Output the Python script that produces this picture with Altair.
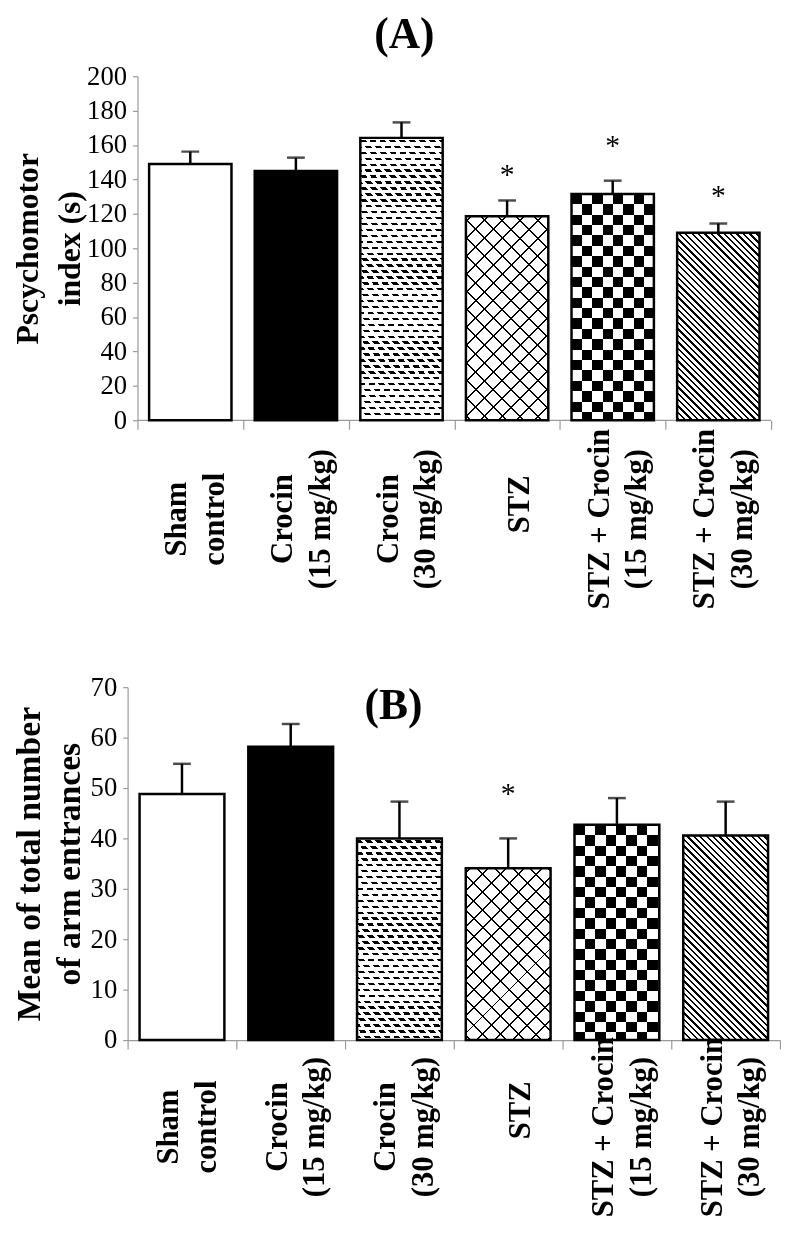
import math
import altair as alt
import pandas as pd

# ---------------- data ----------------
groups = ["Sham\ncontrol", "Crocin\n(15 mg/kg)", "Crocin\n(30 mg/kg)", "STZ",
          "STZ + Crocin\n(15 mg/kg)", "STZ + Crocin\n(30 mg/kg)"]

a_mean = [149.0, 145.0, 164.2, 118.6, 131.6, 109.0]
a_err = [7.2, 7.7, 9.0, 9.2, 7.7, 5.4]
a_star = [None, None, None, 145.4, 162.2, 133.5]
a_ticks = [0, 20, 40, 60, 80, 100, 120, 140, 160, 180, 200]
a_ytitle = ["Pscychomotor", "index (s)"]

b_mean = [48.8, 58.2, 40.0, 34.1, 42.7, 40.6]
b_err = [6.0, 4.5, 7.3, 5.9, 5.3, 6.7]
b_star = [None, None, None, 49.8, None, None]
b_ticks = [0, 10, 20, 30, 40, 50, 60, 70]
b_ytitle = ["Mean of total number", "of arm entrances"]

panel_titles = ["(A)", "(B)"]

# ---------------- style ----------------
FONT = "Liberation Serif"
GRAY = "#9a9a9a"
PAD = 0.11


def stops_from(L, P, on, phase=0.0, fg="black", bg="white"):
    out = [(0.0, bg)]
    s = phase
    while s > 0:
        s -= P
    while s < L:
        a = max(s, 0.0)
        b = min(s + on, L)
        if b > a:
            out += [(a / L, bg), (a / L, fg), (b / L, fg), (b / L, bg)]
        s += P
    out.append((1.0, bg))
    return [{"offset": round(o, 5), "color": c} for o, c in out]


def lin_y(W, H, P, on, phase=0.0):
    return {"gradient": "linear", "x1": 0, "y1": 0, "x2": 0, "y2": 1,
            "stops": stops_from(H, P, on, phase)}


def lin_x(W, H, P, on, phase=0.0):
    return {"gradient": "linear", "x1": 0, "y1": 0, "x2": 1, "y2": 0,
            "stops": stops_from(W, P, on, phase)}


def lin_diag(W, H, s, P, on, phase=0.0):
    L = W + abs(s) * H
    k = L / (W * W + s * s * H * H)
    y1 = 1.0 if s > 0 else 0.0
    return {"gradient": "linear", "x1": 0, "y1": y1,
            "x2": round(k * W, 6), "y2": round(y1 - k * s * H, 6),
            "stops": stops_from(L, P, on, phase)}


def base_fill(i, W, H):
    if i == 0:
        return "white"
    if i == 1:
        return "black"
    if i == 2:
        return lin_y(W, H, 6.0, 2.4, 2.0)
    if i == 3:
        return lin_diag(W, H, -1, 18, 2.0, 4.0)
    if i == 4:
        return lin_x(W, H, 21, 10.5, 0.0)
    return lin_diag(W, H, 1, 6.5, 2.4, 1.0)


def overlay(i, W, H):
    if i == 2:
        return lin_diag(W, H, 0.85, 10, 6.0, 0.0), "screen"
    if i == 3:
        return lin_diag(W, H, 1, 18, 2.0, 4.0), "multiply"
    if i == 4:
        return lin_y(W, H, 21, 10.5, 0.0), "difference"
    return None


def panel(means, errs, stars, ymax, yticks, ytitle, ptitle, W, H, xmin,
          yoff, tfs, tlh, tpad, tpos, lab_multi, lab_single, is_a):
    n = len(groups)
    df = pd.DataFrame({"idx": list(range(n)), "label": groups, "mean": means,
                       "err": errs, "star": stars})
    band_px = W / (n - xmin)
    bar_w = (1 - 2 * PAD) * band_px
    ppu = H / ymax

    def X(f):
        return alt.X(f"{f}:Q",
                     scale=alt.Scale(domain=[xmin, n], nice=False, zero=False),
                     axis=alt.Axis(values=list(range(n + 1)), labels=False,
                                   title=None, grid=False, domain=not is_a,
                                   domainColor=GRAY, domainWidth=1.2,
                                   tickColor=GRAY, tickWidth=1.2, tickSize=9))

    def Y(f):
        return alt.Y(f"{f}:Q",
                     scale=alt.Scale(domain=[0, ymax], nice=False),
                     axis=alt.Axis(values=yticks, title=ytitle, grid=False,
                                   offset=yoff, domainColor=GRAY,
                                   domainWidth=1.2, tickColor=GRAY,
                                   tickWidth=1.2, tickSize=5,
                                   labelFont=FONT, labelFontSize=27,
                                   labelColor="black", labelPadding=6,
                                   titleFont=FONT, titleFontSize=tfs,
                                   titleFontWeight="bold", titleColor="black",
                                   titleLineHeight=tlh, titlePadding=tpad))

    base = alt.Chart(df).transform_calculate(
        x0=f"datum.idx + {PAD}", x1=f"datum.idx + {1 - PAD}",
        xc="datum.idx + 0.5", top="datum.mean + datum.err")

    layers = []
    if is_a:
        layers.append(
            base.transform_filter("datum.idx == 0")
            .transform_calculate(bx0="0", bx1=str(n), by="0")
            .mark_rule(color=GRAY, strokeWidth=1.2)
            .encode(x=X("bx0"), x2="bx1:Q", y=Y("by")))
    for i in range(n):
        f = base_fill(i, bar_w, means[i] * ppu)
        layers.append(
            base.transform_filter(f"datum.idx == {i}").mark_rect(fill=f)
            .encode(x=X("x0"), x2="x1:Q", y=Y("mean"), y2=alt.datum(0)))
    for i in range(n):
        ov = overlay(i, bar_w, means[i] * ppu)
        if ov is None:
            continue
        f, bl = ov
        layers.append(
            base.transform_filter(f"datum.idx == {i}")
            .mark_rect(fill=f, blend=bl)
            .encode(x=X("x0"), x2="x1:Q", y=Y("mean"), y2=alt.datum(0)))
    layers.append(
        base.mark_rect(fill="white", fillOpacity=0, stroke="black",
                       strokeWidth=2.5)
        .encode(x=X("x0"), x2="x1:Q", y=Y("mean"), y2=alt.datum(0)))
    layers.append(
        base.mark_rule(color="black", strokeWidth=2.5)
        .encode(x=X("xc"), y=Y("mean"), y2="top:Q"))
    layers.append(
        base.mark_tick(orient="horizontal", size=18, thickness=2.5,
                       color="black")
        .encode(x=X("xc"), y=Y("top")))
    layers.append(
        base.transform_filter("isValid(datum.star)")
        .mark_text(text="*", font=FONT, fontSize=30, color="black",
                   baseline="alphabetic", dy=14)
        .encode(x=X("xc"), y=Y("star")))
    # multi-line category labels
    layers.append(
        base.transform_filter("indexof(datum.label, '\\n') >= 0")
        .mark_text(angle=270, align="center", baseline="middle",
                   lineBreak="\n", lineHeight=38, font=FONT, dy=-13,
                   fontWeight="bold", fontSize=31, color="black")
        .encode(x=X("xc"), y=alt.value(H + lab_multi), text="label:N"))
    # single-line category labels
    layers.append(
        base.transform_filter("indexof(datum.label, '\\n') < 0")
        .mark_text(angle=270, align="center", baseline="middle",
                   lineBreak="\n", lineHeight=38, font=FONT, dy=13,
                   fontWeight="bold", fontSize=31, color="black")
        .encode(x=X("xc"), y=alt.value(H + lab_single), text="label:N"))
    layers.append(
        alt.Chart(pd.DataFrame({"t": [ptitle]}))
        .mark_text(font=FONT, fontWeight="bold", fontSize=44, color="black",
                   align="center", baseline="middle")
        .encode(x=alt.value(tpos[0]), y=alt.value(tpos[1]), text="t:N"))
    return alt.layer(*layers).properties(width=W, height=H)


pa = panel(a_mean, a_err, a_star, 200, a_ticks, a_ytitle, panel_titles[0],
           W=651, H=348, xmin=-10 / (641 / 6), yoff=-10, tfs=32, tlh=43,
           tpad=0, tpos=(280, -42), lab_multi=100, lab_single=85, is_a=True)
pb = panel(b_mean, b_err, b_star, 70, b_ticks, b_ytitle, panel_titles[1],
           W=660, H=357, xmin=0, yoff=0, tfs=34, tlh=40, tpad=4,
           tpos=(269, 19), lab_multi=88, lab_single=71, is_a=False)

chart = alt.vconcat(pa, pb, spacing=64).properties(
    padding={"left": 3, "right": 0, "top": -2, "bottom": 0},
    background="white",
).configure_view(stroke=None)

chart.save("out.html", embed_options={"renderer": "svg", "actions": False})
